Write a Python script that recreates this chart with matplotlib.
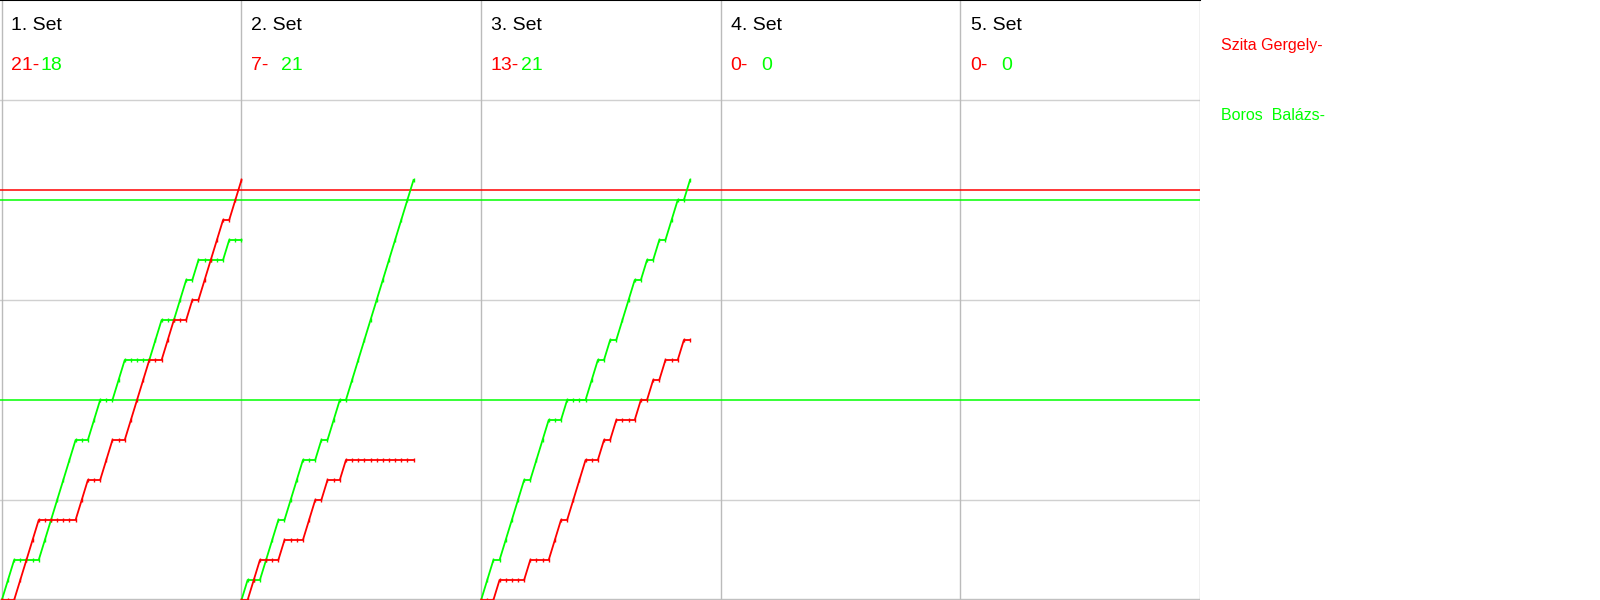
"""Badminton rally-by-rally score progression, Szita Gergely vs Boros Balázs."""

import matplotlib
matplotlib.use("Agg")
import matplotlib.pyplot as plt
import numpy as np

plt.rcParams["font.family"] = ["Liberation Sans", "DejaVu Sans"]

# rally winners per set: R = Szita Gergely (red), G = Boros Balázs (green)
set_winners = [
    "GGRRRRGGGGGGRRGGRRGGRRRRGGRRGGRGRRRRGRR",
    "GRRGGGRGGGRRGRGGRGGGGGGGGGGG",
    "GGRGGGGRGGGRRGRRRGGRGRGGGRGRGRGGRG",
    "",
    "",
]
set_labels = ["1. Set", "2. Set", "3. Set", "4. Set", "5. Set"]
red_scores = [21, 7, 13, 0, 0]
green_scores = [18, 21, 21, 0, 0]
player_names = ["Szita Gergely-", "Boros  Balázs-"]
ref_lines = [(20.5, "red"), (20, "green"), (10, "green")]

RED = "#ff0000"
GREEN = "#00ff00"
SET_W = 39  # rallies per set column
W, H = 1600, 600

fig = plt.figure(figsize=(16, 6), dpi=100)
ax = fig.add_axes([0, 0, 0.75, 1])
ax.set_xlim(-0.3, SET_W * 5)
ax.set_ylim(0, 30)
ax.set_xticks([])
ax.set_yticks([])
for s in ["left", "right", "bottom"]:
    ax.spines[s].set_visible(False)
ax.spines["top"].set_color("black")
ax.spines["top"].set_linewidth(1.5)

for y in [5, 15, 25]:
    ax.axhline(y, color="#d0d0d0", lw=1.0, zorder=1)
ax.axhline(0.05, color="#c0c0c0", lw=1.0, zorder=1)
for k in range(6):
    ax.axvline(k * SET_W, color="#bbbbbb", lw=1.0, zorder=1)

for y, c in ref_lines:
    ax.axhline(y, color=RED if c == "red" else GREEN, lw=1.1, zorder=2)

for k, winners in enumerate(set_winners):
    if not winners:
        continue
    w = np.array(list(winners))
    red = np.concatenate([[0], np.cumsum(w == "R")])
    green = np.concatenate([[0], np.cumsum(w == "G")])
    x = k * SET_W + np.arange(len(red))
    ax.plot(x, green, color=GREEN, lw=1.3, marker="|", ms=3, mew=1, zorder=3)
    ax.plot(x, red, color=RED, lw=1.3, marker="|", ms=3, mew=1, zorder=3)

# header texts, positioned in pixels
def ftext(px, py, s, color, size):
    fig.text(px / W, 1 - py / H, s, color=color, fontsize=size, va="baseline", ha="left")

for k in range(5):
    x0 = k * 240
    ftext(x0 + 10.7, 30, set_labels[k], "black", 14)
    ftext(x0 + 10.7, 70, f"{red_scores[k]}-", RED, 14)
    ftext(x0 + 41, 70, f"{green_scores[k]}", GREEN, 14)

ftext(1220.7, 50, player_names[0], RED, 11.5)
ftext(1220.7, 120, player_names[1], GREEN, 11.5)

fig.savefig("out.png", dpi=100, facecolor="white")
